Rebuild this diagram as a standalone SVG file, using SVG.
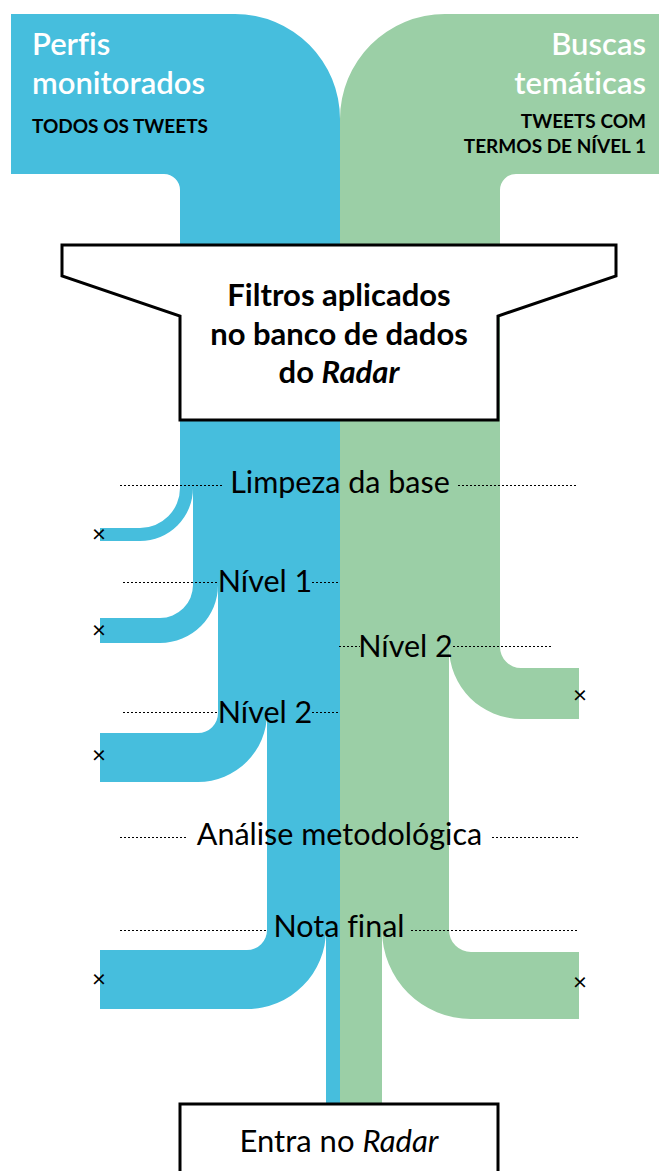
<svg xmlns="http://www.w3.org/2000/svg" width="659" height="1171" viewBox="0 0 659 1171">
<style>
.t{font-family:Lato,"Liberation Sans",sans-serif;fill:#000;font-variant-ligatures:none}
.lbl{font-size:30.5px;text-anchor:middle}
.hd{font-size:31px;font-weight:600;fill:#fff}
.sub{font-size:19px;font-weight:700}
.fn{font-size:31px;font-weight:700;text-anchor:middle}
.x{font-size:24px;text-anchor:middle}
.dot{stroke:#000;stroke-width:1;stroke-dasharray:2 2;fill:none}
.box{fill:#fff;stroke:#000;stroke-width:3}
</style>
<rect width="659" height="1171" fill="#fff"/>
<g id="streams">
<path id="blue" fill="#46bedd" d="M11,14 H235 A105,105 0 0 1 340,119 V1104 H326 V930 A79,79 0 0 1 247,1009 H100 V950 H247 A20,20 0 0 0 267,930 V713 A69,69 0 0 1 198,782 H100 V733 H198 A20,20 0 0 0 218,713 V585 A58,58 0 0 1 160,643 H100 V618 H160 A33,33 0 0 0 193,585 V488 A53,53 0 0 1 140,541 H100 V528 H140 A40,40 0 0 0 180,488 V190 A16,16 0 0 0 164,174 H11 Z"/>
<path id="green" fill="#9bcfa6" d="M340,119 A105,105 0 0 1 445,14 H659 V174 H516 A16,16 0 0 0 500,190 V647 A21,21 0 0 0 521,668 H579 V719 H521 A72,72 0 0 1 449,647 V930 A22,22 0 0 0 471,952 H579 V1019 H471 A89,89 0 0 1 382,930 V1104 H340 Z"/>
</g>
<g id="source-perfis">
<text class="t hd" x="32" y="55">Perfis</text>
<text class="t hd" x="32" y="94">monitorados</text>
<text class="t sub" x="32" y="133">TODOS OS TWEETS</text>
</g>
<g id="source-buscas">
<text class="t hd" x="646" y="55" text-anchor="end">Buscas</text>
<text class="t hd" x="646" y="94" text-anchor="end">temáticas</text>
<text class="t sub" x="646" y="128" text-anchor="end">TWEETS COM</text>
<text class="t sub" x="646" y="153" text-anchor="end">TERMOS DE NÍVEL 1</text>
</g>
<g id="funnel">
<polygon class="box" points="62,245 616,245 616,276 498,316 498,420 180,420 180,316 62,276"/>
<text class="t fn" x="339" y="306">Filtros aplicados</text>
<text class="t fn" x="339" y="345">no banco de dados</text>
<text class="t fn" x="339" y="383">do <tspan font-style="italic">Radar</tspan></text>
</g>
<g id="filters">
<line class="dot" x1="120" y1="485.5" x2="222" y2="485.5"/>
<line class="dot" x1="458" y1="485.5" x2="578" y2="485.5"/>
<text class="t lbl" x="340" y="493">Limpeza da base</text>
<line class="dot" x1="123" y1="582.5" x2="218" y2="582.5"/>
<line class="dot" x1="312" y1="582.5" x2="338" y2="582.5"/>
<text class="t lbl" x="265" y="592">Nível 1</text>
<line class="dot" x1="339" y1="646.5" x2="360" y2="646.5"/>
<line class="dot" x1="453" y1="646.5" x2="553" y2="646.5"/>
<text class="t lbl" x="405.5" y="657">Nível 2</text>
<line class="dot" x1="123" y1="712.5" x2="218" y2="712.5"/>
<line class="dot" x1="312" y1="712.5" x2="338" y2="712.5"/>
<text class="t lbl" x="265" y="723">Nível 2</text>
<line class="dot" x1="120" y1="837.5" x2="186" y2="837.5"/>
<line class="dot" x1="492" y1="837.5" x2="578" y2="837.5"/>
<text class="t lbl" x="339.5" y="845">Análise metodológica</text>
<line class="dot" x1="120" y1="930.5" x2="267" y2="930.5"/>
<line class="dot" x1="411" y1="930.5" x2="578" y2="930.5"/>
<text class="t lbl" x="339" y="937">Nota final</text>
</g>
<g id="discards">
<text class="t x" x="99" y="542">×</text>
<text class="t x" x="99" y="638">×</text>
<text class="t x" x="99" y="763">×</text>
<text class="t x" x="99" y="987">×</text>
<text class="t x" x="580" y="703">×</text>
<text class="t x" x="580" y="990">×</text>
</g>
<g id="output">
<rect class="box" x="180" y="1104" width="318" height="90"/>
<text class="t" x="339" y="1152" font-size="31" text-anchor="middle">Entra no <tspan font-style="italic">Radar</tspan></text>
</g>
</svg>
